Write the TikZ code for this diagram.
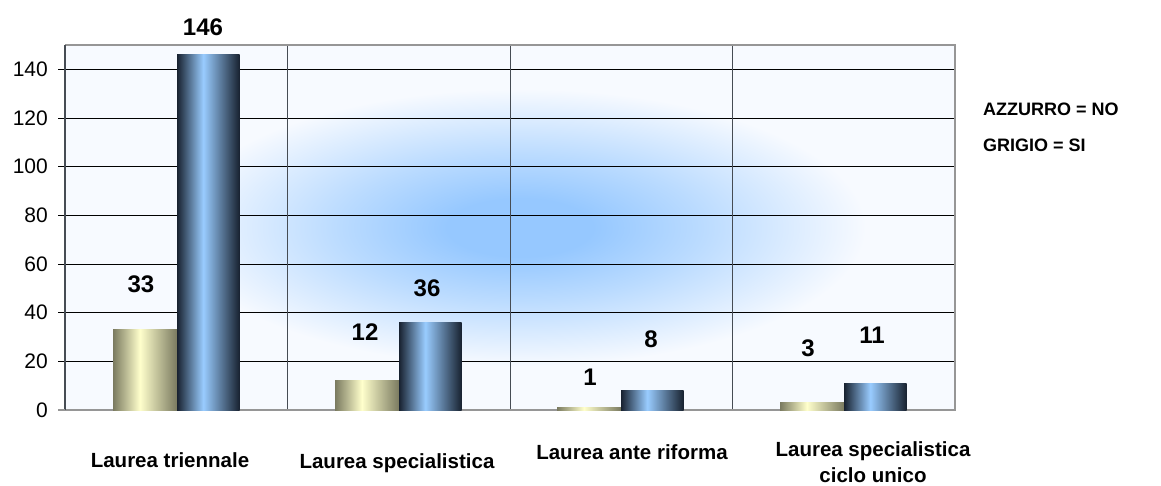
\documentclass[tikz,border=0pt]{standalone}
\usepackage{fontspec}
\setmainfont{Liberation Sans}
\usepackage{tikz}
\usetikzlibrary{positioning}

\definecolor{glowblue}{RGB}{150,200,255}
\definecolor{plotwhite}{RGB}{247,250,255}
\definecolor{greyedge}{RGB}{122,122,96}
\definecolor{greylight}{RGB}{255,255,204}
\definecolor{blueedge}{RGB}{24,34,48}
\definecolor{bluelight}{RGB}{153,204,255}
\definecolor{framegrey}{RGB}{150,150,150}
\definecolor{gridgrey}{RGB}{70,76,84}

% shadings: the path's box covers 25bp..75bp (horizontal) and radius 25bp (radial)
\pgfdeclareradialshading{plotglow}{\pgfpoint{0bp}{0bp}}{color(0bp)=(glowblue); color(4bp)=(glowblue); color(10bp)=(glowblue!65!white); color(19bp)=(plotwhite); color(50bp)=(plotwhite)}
\pgfdeclarehorizontalshading{greycyl}{100bp}{color(0bp)=(greyedge); color(25bp)=(greyedge); color(46bp)=(greylight); color(75bp)=(greyedge); color(100bp)=(greyedge)}
\pgfdeclarehorizontalshading{bluecyl}{100bp}{color(0bp)=(blueedge); color(25bp)=(blueedge); color(46bp)=(bluelight); color(75bp)=(blueedge); color(100bp)=(blueedge)}

\tikzset{
  greybar/.style={shading=greycyl},
  bluebar/.style={shading=bluecyl},
  val/.style={font=\fontsize{24}{28}\selectfont\bfseries, inner sep=0pt},
  ticklbl/.style={font=\fontsize{21}{25}\selectfont, anchor=east, inner sep=0pt},
  catlbl/.style={font=\fontsize{20.5}{26.5}\selectfont\bfseries, align=center, inner sep=0pt},
  keytext/.style={font=\fontsize{18}{22}\selectfont\bfseries, anchor=west, inner sep=0pt},
}

\begin{document}
\begin{tikzpicture}[x=1pt,y=-1pt]
  \useasboundingbox (0,0) rectangle (1161,486);
  % plot area with glow
  \begin{scope}
    \clip (65,45) rectangle (955,410);
    \shade[shading=plotglow] (65,45) rectangle (975,410);
  \end{scope}
  \foreach \v in {20,40,...,140}
    \draw[black, line width=1pt] (58,{410-\v*2.433}) -- (955,{410-\v*2.433});
  \foreach \x in {287.5,510,732.5}
    \draw[gridgrey, line width=1pt] (\x,45) -- (\x,410);
  \draw[framegrey, line width=1.5pt] (65,45) -- (955,45) -- (955,410) -- (65,410);
  \draw[gridgrey, line width=1.2pt] (65,45) -- (65,410);
  \draw[framegrey, line width=1.2pt] (58,410) -- (65,410);
  \foreach \v in {0,20,...,140}
    \node[ticklbl] (tick\v) at (48,{410-\v*2.433}) {\v};
  % bars: grey = SI, blue = NO
  \foreach \gx/\gv/\bv in {113/33/146,335/12/36,557/1/8,780/3/11} {
    \shade[greybar] (\gx,410) rectangle (\gx+64,{410-\gv*2.433});
    \shade[bluebar] (\gx+64,410) rectangle (\gx+126.5,{410-\bv*2.433});
  }
  % value labels
  \node[val] (val1) at (203,27) {146};
  \node[val] (val2) at (141,284) {33};
  \node[val] (val3) at (365,332) {12};
  \node[val] (val4) at (427,288) {36};
  \node[val] (val5) at (590,377) {1};
  \node[val] (val6) at (651,339) {8};
  \node[val] (val7) at (808,348) {3};
  \node[val] (val8) at (872,335) {11};
  % categories
  \node[catlbl] (cat1) at (170,460) {Laurea triennale};
  \node[catlbl] (cat2) at (397,463) {Laurea specialistica};
  \node[catlbl] (cat3) at (632,452) {Laurea ante riforma};
  \node[catlbl] (cat4) at (873,462) {Laurea specialistica\\ciclo unico};
  % key
  \node[keytext] (keyno) at (983,109) {AZZURRO = NO};
  \node[keytext] (keysi) at (983,145) {GRIGIO = SI};
\end{tikzpicture}
\end{document}
